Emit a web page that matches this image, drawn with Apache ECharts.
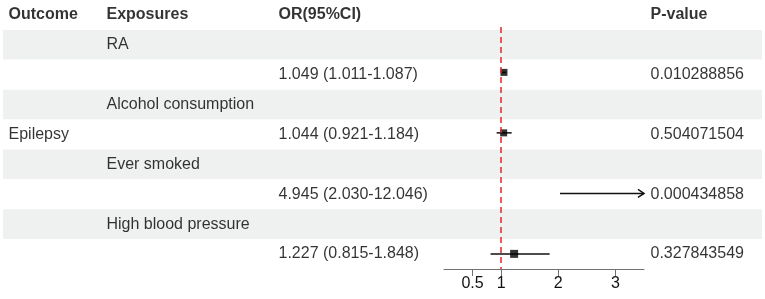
<!DOCTYPE html>
<html>
<head>
<meta charset="utf-8">
<script src="https://cdn.jsdelivr.net/npm/echarts@6/dist/echarts.min.js"></script>
<style>
  html, body { margin: 0; padding: 0; background: #fff; }
  #main { width: 765px; height: 299px; }
</style>
</head>
<body>
<div id="main"></div>
<script>
// table data
var headers = ['Outcome', 'Exposures', 'OR(95%CI)', 'P-value'];
var outcome = 'Epilepsy';
var exposures = ['RA', 'Alcohol consumption', 'Ever smoked', 'High blood pressure'];
var orValue = [1.049, 1.044, 4.945, 1.227];
var ciLow = [1.011, 0.921, 2.030, 0.815];
var ciHigh = [1.087, 1.184, 12.046, 1.848];
var pValue = ['0.010288856', '0.504071504', '0.000434858', '0.327843549'];
var boxSize = [7, 7, 7, 8];
var xTicks = [0.5, 1, 2, 3];
var xMax = 3.5;

// every exposure takes a name row and a value row
var rows = [];
exposures.forEach(function (e, i) { rows.push('n' + i); rows.push('v' + i); });
var tableRows = ['head'].concat(rows);
var colX = [5, 103, 275, 647];
var font = 'Liberation Sans, Arial, sans-serif';

var texts = [];
headers.forEach(function (h, c) {
  texts.push({ value: [colX[c], 'head'], name: h, label: { fontWeight: 'bold' } });
});
exposures.forEach(function (e, i) {
  texts.push({ value: [colX[1], 'n' + i], name: e });
  texts.push({ value: [colX[2], 'v' + i],
    name: orValue[i].toFixed(3) + ' (' + ciLow[i].toFixed(3) + '-' + ciHigh[i].toFixed(3) + ')' });
  texts.push({ value: [colX[3], 'v' + i], name: pValue[i] });
});
texts.push({ value: [colX[0], 'v' + Math.floor((exposures.length - 1) / 2)], name: outcome });

var ciData = exposures.map(function (e, i) { return [ciLow[i], 'v' + i, ciHigh[i]]; });
var boxData = exposures.map(function (e, i) {
  return { value: [orValue[i], 'v' + i], symbolSize: boxSize[i] };
});

var mycharts = echarts.init(document.getElementById('main'));
var option = {
  animation: false,
  textStyle: { fontFamily: font },
  grid: [
    { left: 3, width: 759, top: -4, height: 273 },
    { left: 444, width: 200, top: 27, height: 242 }
  ],
  xAxis: [
    { gridIndex: 0, type: 'value', min: 0, max: 759, show: false },
    {
      gridIndex: 1, type: 'value', min: 0, max: xMax,
      axisLine: { show: true, lineStyle: { color: '#707070', width: 1 } },
      axisTick: { show: true, length: 7, customValues: xTicks, lineStyle: { color: '#707070' } },
      axisLabel: { customValues: xTicks, color: '#111', fontSize: 16, margin: 7, fontFamily: font },
      splitLine: { show: false }
    }
  ],
  yAxis: [
    {
      gridIndex: 0, type: 'category', data: tableRows, inverse: true,
      axisLine: { show: false }, axisTick: { show: false }, axisLabel: { show: false },
      splitLine: { show: false },
      splitArea: { show: true, areaStyle: { color: ['#ffffff', '#eff1f1'] } }
    },
    { gridIndex: 1, type: 'category', data: rows, inverse: true, show: false }
  ],
  series: [
    {
      type: 'scatter', xAxisIndex: 0, yAxisIndex: 0, silent: true,
      symbolSize: 1, itemStyle: { color: 'rgba(0,0,0,0)' },
      label: { show: true, position: 'right', distance: 0, formatter: '{b}',
        color: '#000', fontSize: 16, fontFamily: font },
      data: texts
    },
    {
      type: 'custom', xAxisIndex: 1, yAxisIndex: 1, silent: true,
      encode: { x: [0, 2], y: 1 },
      renderItem: function (params, api) {
        var y = api.value(1);
        var hi = api.value(2);
        var p1 = api.coord([api.value(0), y]);
        var p2 = api.coord([Math.min(hi, xMax), y]);
        var kids = [{ type: 'line', shape: { x1: p1[0], y1: p1[1], x2: p2[0], y2: p2[1] },
          style: { stroke: '#111', lineWidth: 1.5 } }];
        if (hi > xMax) {
          kids.push({ type: 'polyline',
            shape: { points: [[p2[0] - 6, p2[1] - 4], [p2[0], p2[1]], [p2[0] - 6, p2[1] + 4]] },
            style: { stroke: '#111', lineWidth: 1.5, fill: null } });
        }
        return { type: 'group', children: kids };
      },
      data: ciData
    },
    {
      type: 'scatter', xAxisIndex: 1, yAxisIndex: 1, silent: true,
      symbol: 'rect', itemStyle: { color: '#000' }, clip: true,
      data: boxData,
      markLine: {
        silent: true, symbol: 'none', label: { show: false },
        lineStyle: { color: '#e3262a', type: [6, 4], width: 1.5 },
        data: [{ xAxis: 1 }]
      }
    }
  ]
};
mycharts.setOption(option);
</script>
</body>
</html>
